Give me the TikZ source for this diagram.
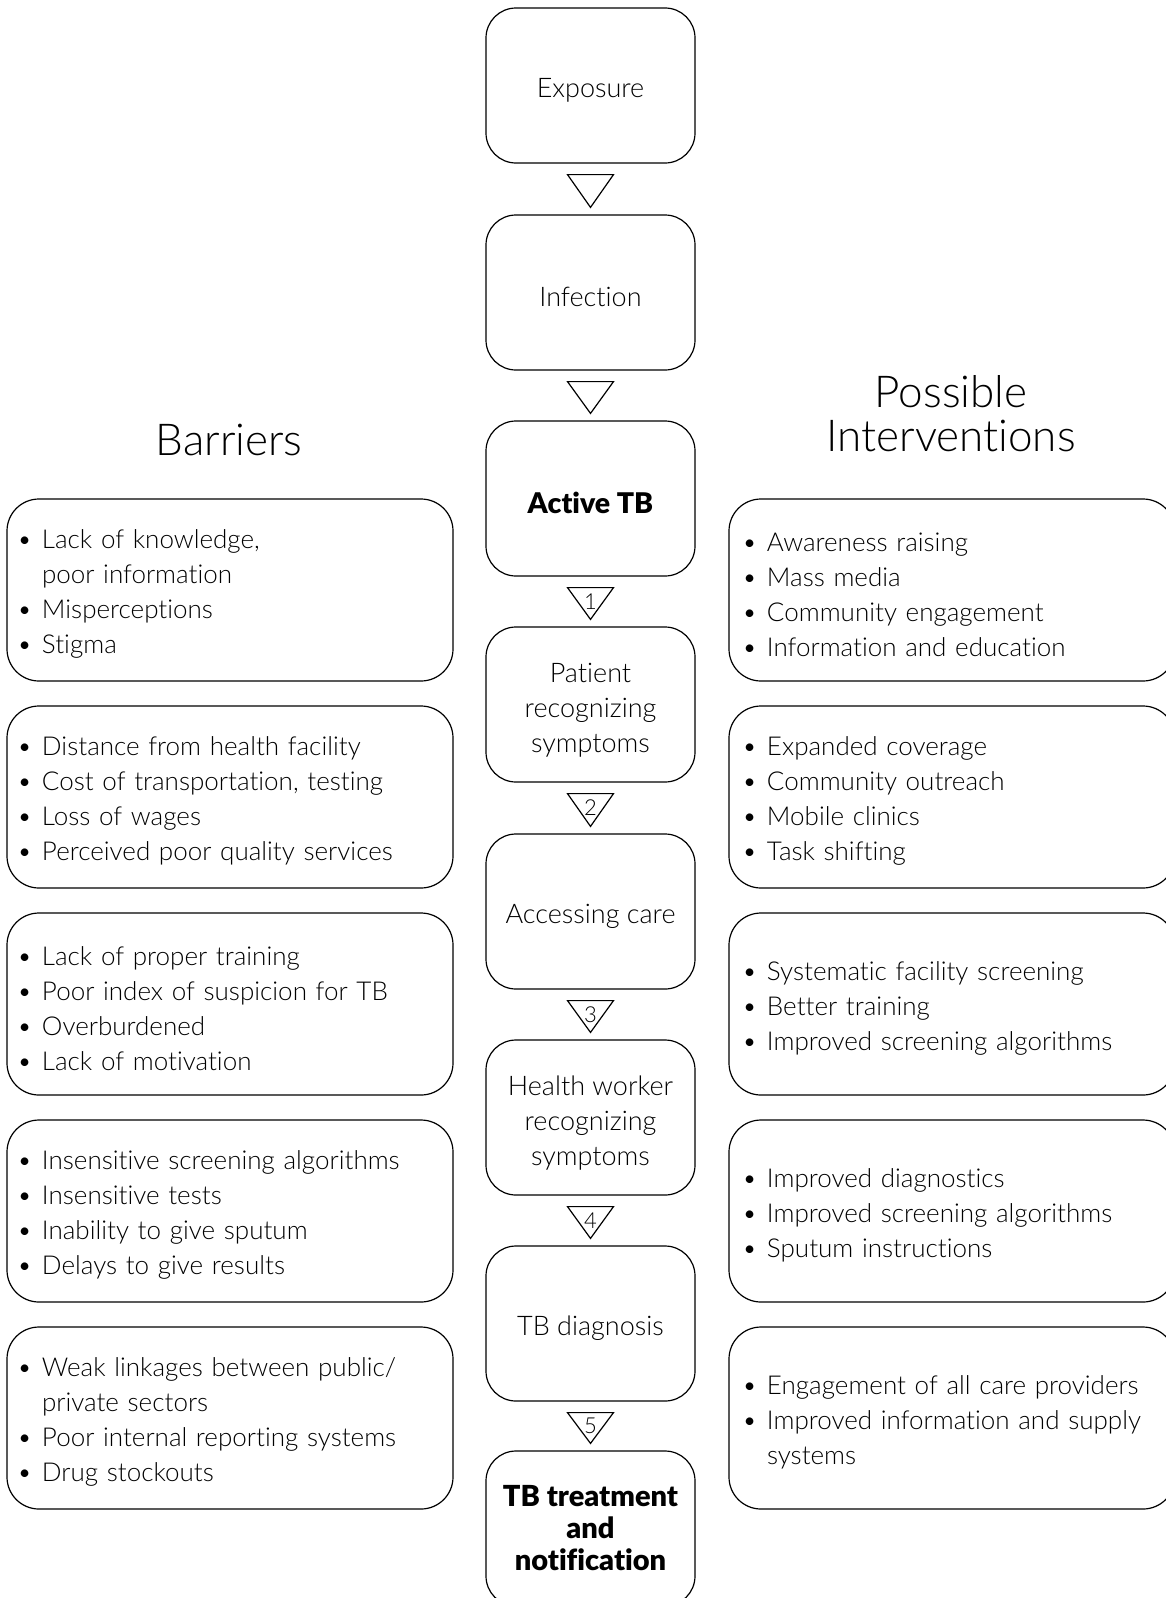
\documentclass[tikz,border=0pt]{standalone}
\usepackage{fontspec}
\setmainfont{Lato Light}[BoldFont={Lato Black}, Ligatures=NoCommon]
\usetikzlibrary{calc}
\newcommand{\bl}{\makebox[25pt][l]{\textbullet}}
\newcommand{\ind}{\hspace*{25pt}}
\newcommand{\up}{\rule{0pt}{30pt}}

\begin{document}
\begin{tikzpicture}
[x=1pt, y=-1pt, line width=1.2pt,
 stage/.style={rectangle, rounded corners=30pt, draw=black, minimum width=209pt, minimum height=155pt, align=center, font=\fontsize{27}{35}\selectfont, execute at begin node={\rule{0pt}{1.05em}}},
 barrier/.style={rectangle, rounded corners=32pt, draw=black, minimum width=446pt, minimum height=182pt, text width=426pt, inner xsep=10pt, align=left, font=\fontsize{26}{35}\selectfont, execute at begin node={\rule{0pt}{1.05em}}},
 remedy/.style={barrier, text width=420pt, inner xsep=13pt},
 heading/.style={align=center, font=\fontsize{44}{44}\selectfont},
 num/.style={inner sep=0pt, font=\fontsize{22}{22}\selectfont}]

\useasboundingbox (0,0) rectangle (1166,1598);

\node[heading] (bt) at (229,440) {Barriers};
\node[heading] (it) at (951,414) {Possible\\Interventions};

% stages of the cascade
\node[stage] (1) at (590.5,85.5) {Exposure};
\node[stage] (2) at (590.5,292.5) {Infection};
\node[stage, font=\bfseries\fontsize{28.5}{35}\selectfont] (3) at (590.5,498.5) {Active TB};
\node[stage] (4) at (590.5,704.5) {\up Patient\\recognizing\\symptoms};
\node[stage] (5) at (590.5,911.5) {Accessing care};
\node[stage] (6) at (590.5,1117.5) {\up Health worker\\recognizing\\symptoms};
\node[stage] (7) at (590.5,1323.5) {TB diagnosis};
\node[stage, font=\bfseries\fontsize{29}{32}\selectfont, execute at begin node={}] (8) at (590.5,1528.5) {TB treatment\\and\\notification};

\draw ($(1.south)+(-23,11)$) -- ($(1.south)+(23,11)$) -- ($(2.north)+(0,-7)$) -- cycle;
\draw ($(2.south)+(-23,11)$) -- ($(2.south)+(23,11)$) -- ($(3.north)+(0,-7)$) -- cycle;
\draw ($(3.south)+(-23,11)$) -- ($(3.south)+(23,11)$) -- ($(4.north)+(0,-7)$) -- cycle;
\draw ($(4.south)+(-23,11)$) -- ($(4.south)+(23,11)$) -- ($(5.north)+(0,-7)$) -- cycle;
\draw ($(5.south)+(-23,11)$) -- ($(5.south)+(23,11)$) -- ($(6.north)+(0,-7)$) -- cycle;
\draw ($(6.south)+(-23,11)$) -- ($(6.south)+(23,11)$) -- ($(7.north)+(0,-7)$) -- cycle;
\draw ($(7.south)+(-23,11)$) -- ($(7.south)+(23,11)$) -- ($(8.north)+(0,-7)$) -- cycle;

\node[num] (n1) at ($(3.south)!0.5!(4.north)$) {1};
\node[num] (n2) at ($(4.south)!0.5!(5.north)$) {2};
\node[num] (n3) at ($(5.south)!0.5!(6.north)$) {3};
\node[num] (n4) at ($(6.south)!0.5!(7.north)$) {4};
\node[num] (n5) at ($(7.south)!0.5!(8.north)$) {5};

% barriers
\node[barrier] (b1) at (230,590) {\bl Lack of knowledge,\\\ind poor information\\\bl Misperceptions\\\bl Stigma};
\node[barrier] (b2) at (230,797) {\bl Distance from health facility\\\bl Cost of transportation, testing\\\bl Loss of wages\\\bl Perceived poor quality services};
\node[barrier] (b3) at (230,1004) {\bl Lack of proper training\\\bl Poor index of suspicion for TB\\\bl Overburdened\\\bl Lack of motivation};
\node[barrier] (b4) at (230,1211) {\bl Insensitive screening algorithms\\\bl Insensitive tests\\\bl Inability to give sputum\\\bl Delays to give results};
\node[barrier] (b5) at (230,1418) {\bl Weak linkages between public/\\\ind private sectors\\\bl Poor internal reporting systems\\\bl Drug stockouts};

% interventions
\node[remedy] (r1) at (952,590) {\bl Awareness raising\\\bl Mass media\\\bl Community engagement\\\bl Information and education};
\node[remedy] (r2) at (952,797) {\bl Expanded coverage\\\bl Community outreach\\\bl Mobile clinics\\\bl Task shifting};
\node[remedy] (r3) at (952,1004) {\bl Systematic facility screening\\\bl Better training\\\bl Improved screening algorithms};
\node[remedy] (r4) at (952,1211) {\bl Improved diagnostics\\\bl Improved screening algorithms\\\bl Sputum instructions};
\node[remedy] (r5) at (952,1418) {\bl Engagement of all care providers\\\bl Improved information and supply\\\ind systems};
\end{tikzpicture}
\end{document}
